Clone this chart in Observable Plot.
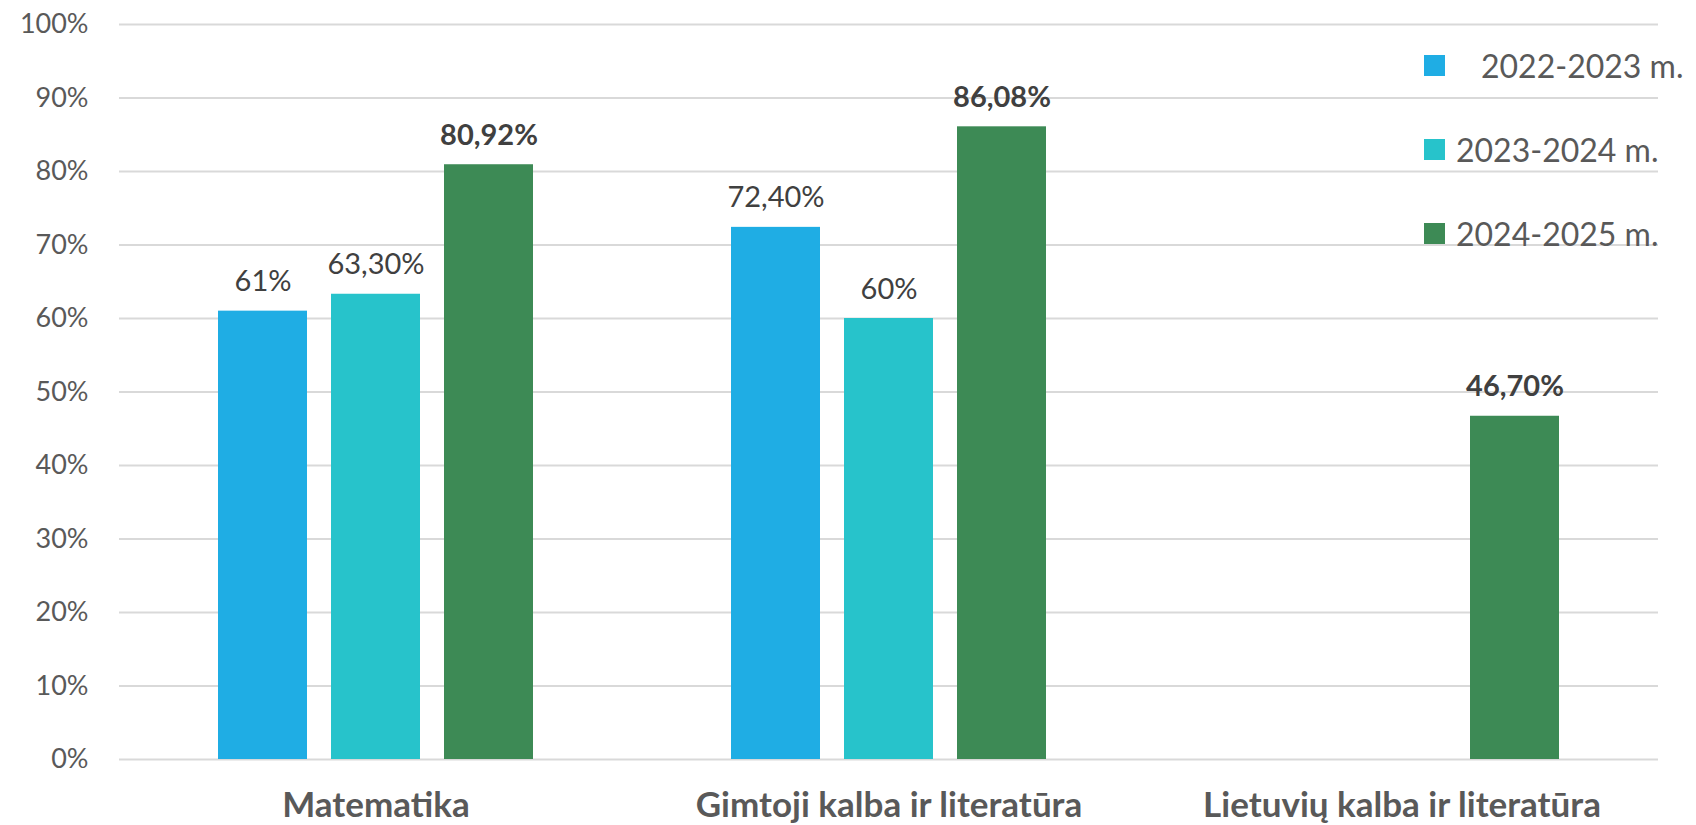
<!DOCTYPE html>
<html><head><meta charset="utf-8">
<script src="https://cdn.jsdelivr.net/npm/d3@7"></script>
<script src="https://cdn.jsdelivr.net/npm/@observablehq/plot@0.6"></script>
<style>
body{margin:0;background:#fff;font-family:Lato,sans-serif;}
#wrap{position:relative;width:1696px;height:825px;overflow:hidden}
#legend{position:absolute;left:1424px;top:0;width:272px;height:300px}
.item{position:absolute;left:0;display:flex;align-items:center;white-space:nowrap;font-size:32px;line-height:21px;color:#595959}
.sw{width:21px;height:21px;margin-right:11px;flex:none}
</style></head><body><div id="wrap"></div>
<script>
const categories = ["Matematika", "Gimtoji kalba ir literatūra", "Lietuvių kalba ir literatūra"];
const series = ["2022-2023 m.", "2023-2024 m.", "2024-2025 m."];
const values2022 = [61, 72.4, null];
const values2023 = [63.3, 60, null];
const values2024 = [80.92, 86.08, 46.7];
const labels2022 = ["61%", "72,40%", null];
const labels2023 = ["63,30%", "60%", null];
const labels2024 = ["80,92%", "86,08%", "46,70%"];
const colors = ["#1FADE4", "#27C3CB", "#3D8A55"];
const yTicks = [0, 10, 20, 30, 40, 50, 60, 70, 80, 90, 100];

const valueSets = [values2022, values2023, values2024];
const labelSets = [labels2022, labels2023, labels2024];
const rows = [];
categories.forEach((c, i) => {
  series.forEach((s, j) => {
    const v = valueSets[j][i];
    if (v != null) rows.push({category: c, series: s, value: v, label: labelSets[j][i], bold: j === 2});
  });
});

const chart = Plot.plot({
  width: 1696, height: 825,
  marginLeft: 118, marginRight: 38, marginTop: 24, marginBottom: 66,
  style: {fontFamily: "Lato, sans-serif", background: "transparent"},
  fx: {domain: categories, padding: 0, label: null},
  x: {domain: series, paddingInner: 0.211, paddingOuter: 0.866, axis: null},
  y: {domain: [0, 100], label: null},
  color: {domain: series, range: colors},
  marks: [
    Plot.gridY(yTicks, {stroke: "#d9d9d9", strokeOpacity: 1, strokeWidth: 2}),
    Plot.axisY(yTicks, {tickSize: 0, tickPadding: 31, tickFormat: d => d + "%", fontSize: 27, color: "#595959", label: null}),
    Plot.barY(rows, {fx: "category", x: "series", y: "value", fill: "series"}),
    Plot.text(rows.filter(d => !d.bold), {fx: "category", x: "series", y: "value", text: "label", lineAnchor: "bottom", dy: -20, fontSize: 29, fill: "#404040"}),
    Plot.text(rows.filter(d => d.bold), {fx: "category", x: "series", y: "value", text: "label", lineAnchor: "bottom", dy: -20, fontSize: 29, fontWeight: "bold", fill: "#404040"}),
    Plot.axisFx({anchor: "bottom", tickSize: 0, tickPadding: 33, fontSize: 35, fontWeight: "bold", color: "#595959", label: null})
  ]
});

const wrap = document.getElementById("wrap");
wrap.appendChild(chart);
const legend = document.createElement("div");
legend.id = "legend";
series.forEach((s, j) => {
  const item = document.createElement("div");
  item.className = "item";
  item.style.top = (55 + j * 84) + "px";
  const sw = document.createElement("span");
  sw.className = "sw";
  sw.style.background = colors[j];
  const tx = document.createElement("span");
  tx.textContent = s;
  if (j === 0) tx.style.paddingLeft = "25px";
  item.appendChild(sw);
  item.appendChild(tx);
  legend.appendChild(item);
});
wrap.appendChild(legend);
</script>
</body></html>
